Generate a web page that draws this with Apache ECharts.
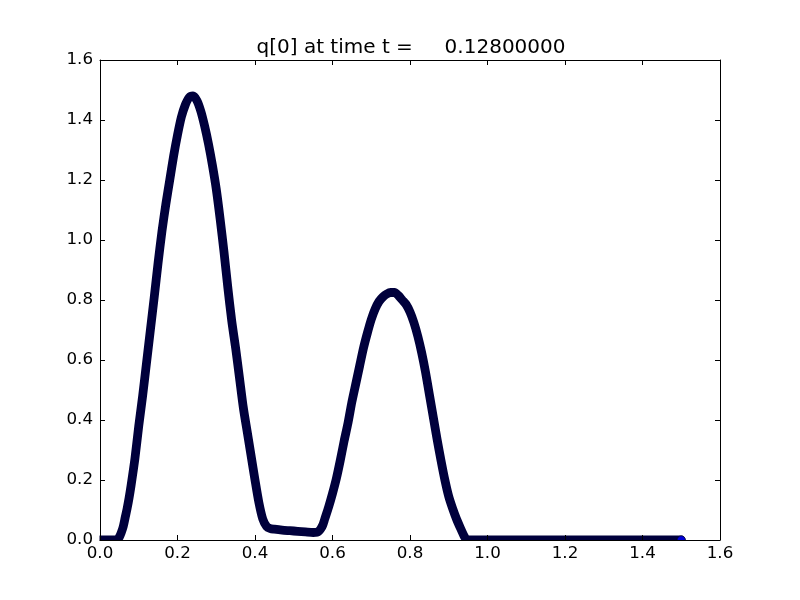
<!DOCTYPE html>
<html>
<head>
<meta charset="utf-8">
<script src="https://cdn.jsdelivr.net/npm/echarts@6/dist/echarts.min.js"></script>
<style>html,body{margin:0;padding:0;background:#fff}#c{width:800px;height:600px}</style>
</head>
<body>
<div id="c"></div>
<script>
// x positions of the q[0] samples
const xs = [0.00,0.02,0.04,0.045,0.05,0.055,0.06,0.065,0.07,0.075,0.08,0.09,0.10,0.11,0.12,0.13,0.14,0.15,0.16,0.17,0.18,0.19,0.20,0.21,0.22,0.23,0.24,0.25,0.26,0.27,0.28,0.29,0.30,0.31,0.32,0.33,0.34,0.35,0.36,0.37,0.38,0.39,0.40,0.41,0.42,0.43,0.44,0.45,0.47,0.49,0.51,0.53,0.55,0.56,0.565,0.57,0.575,0.58,0.59,0.60,0.61,0.62,0.63,0.64,0.65,0.66,0.67,0.68,0.69,0.70,0.71,0.72,0.73,0.74,0.75,0.76,0.77,0.78,0.79,0.80,0.81,0.82,0.83,0.84,0.85,0.86,0.87,0.88,0.89,0.90,0.91,0.92,0.93,0.94,0.945,0.95,1.0,1.1,1.2,1.3,1.4,1.5];
// q[0] values
const qs = [0,0,0,0.002,0.01,0.025,0.045,0.075,0.105,0.14,0.18,0.27,0.38,0.48,0.59,0.70,0.81,0.925,1.03,1.12,1.20,1.28,1.35,1.41,1.45,1.475,1.48,1.465,1.43,1.38,1.32,1.25,1.17,1.07,0.96,0.84,0.73,0.64,0.54,0.44,0.36,0.28,0.20,0.125,0.07,0.045,0.038,0.036,0.033,0.031,0.029,0.027,0.025,0.026,0.03,0.038,0.05,0.07,0.11,0.155,0.205,0.265,0.33,0.39,0.46,0.52,0.58,0.64,0.69,0.735,0.77,0.795,0.81,0.82,0.825,0.825,0.815,0.80,0.785,0.76,0.725,0.68,0.625,0.56,0.485,0.41,0.335,0.265,0.2,0.145,0.105,0.07,0.04,0.012,0.003,0,0,0,0,0,0,0];
const titleText = 'q[0] at time t =     0.12800000';
const axisMin = 0, axisMax = 1.6, axisStep = 0.2;

const pts = xs.map((x, i) => [x, qs[i]]);
const lastPt = [pts[pts.length - 1]];

const chart = echarts.init(document.getElementById('c'), null, {renderer: 'canvas'});
const font = 'DejaVu Sans';
const tickLab = {fontFamily: font, fontSize: 16.7, color: '#000'};
const axCommon = {
  type: 'value', min: axisMin, max: axisMax, interval: axisStep, z: 10,
  axisLine: {show: true, onZero: false, lineStyle: {color: '#000', width: 1}},
  axisTick: {show: true, inside: true, length: 5, lineStyle: {color: '#000', width: 1}},
  splitLine: {show: false}
};
chart.setOption({
  animation: false,
  backgroundColor: '#fff',
  title: {
    text: titleText, left: 406, top: 33, textAlign: 'center',
    textStyle: {fontFamily: font, fontSize: 20, fontWeight: 'normal', color: '#000'}
  },
  grid: {left: 100, right: 80, top: 60, bottom: 60, containLabel: false},
  xAxis: [
    Object.assign({}, axCommon, {position: 'bottom',
      axisLabel: Object.assign({margin: 5, formatter: v => v.toFixed(1)}, tickLab)}),
    Object.assign({}, axCommon, {position: 'top', axisLabel: {show: false}})
  ],
  yAxis: [
    Object.assign({}, axCommon, {position: 'left',
      axisLabel: Object.assign({margin: 7, formatter: v => v.toFixed(1)}, tickLab)}),
    Object.assign({}, axCommon, {position: 'right', axisLabel: {show: false}})
  ],
  graphic: {elements: [
    {type: 'rect', z: 5, shape: {x: 94, y: 540.5, width: 636, height: 7}, style: {fill: '#fff'}},
    {type: 'rect', z: 5, shape: {x: 94, y: 520, width: 5.5, height: 28}, style: {fill: '#fff'}}
  ]},
  series: [
    {
      type: 'line', data: pts, xAxisIndex: 0, yAxisIndex: 0,
      showSymbol: false, symbol: 'none', clip: true, z: 2,
      smooth: 0.25,
      lineStyle: {color: '#00003c', width: 8.8, cap: 'round', join: 'round'}
    },
    {
      type: 'scatter', data: lastPt, xAxisIndex: 0, yAxisIndex: 0, z: 3,
      symbol: 'circle', symbolSize: 8.3,
      itemStyle: {color: '#0000ff', borderColor: '#000', borderWidth: 0.7}
    }
  ]
});
</script>
</body>
</html>
